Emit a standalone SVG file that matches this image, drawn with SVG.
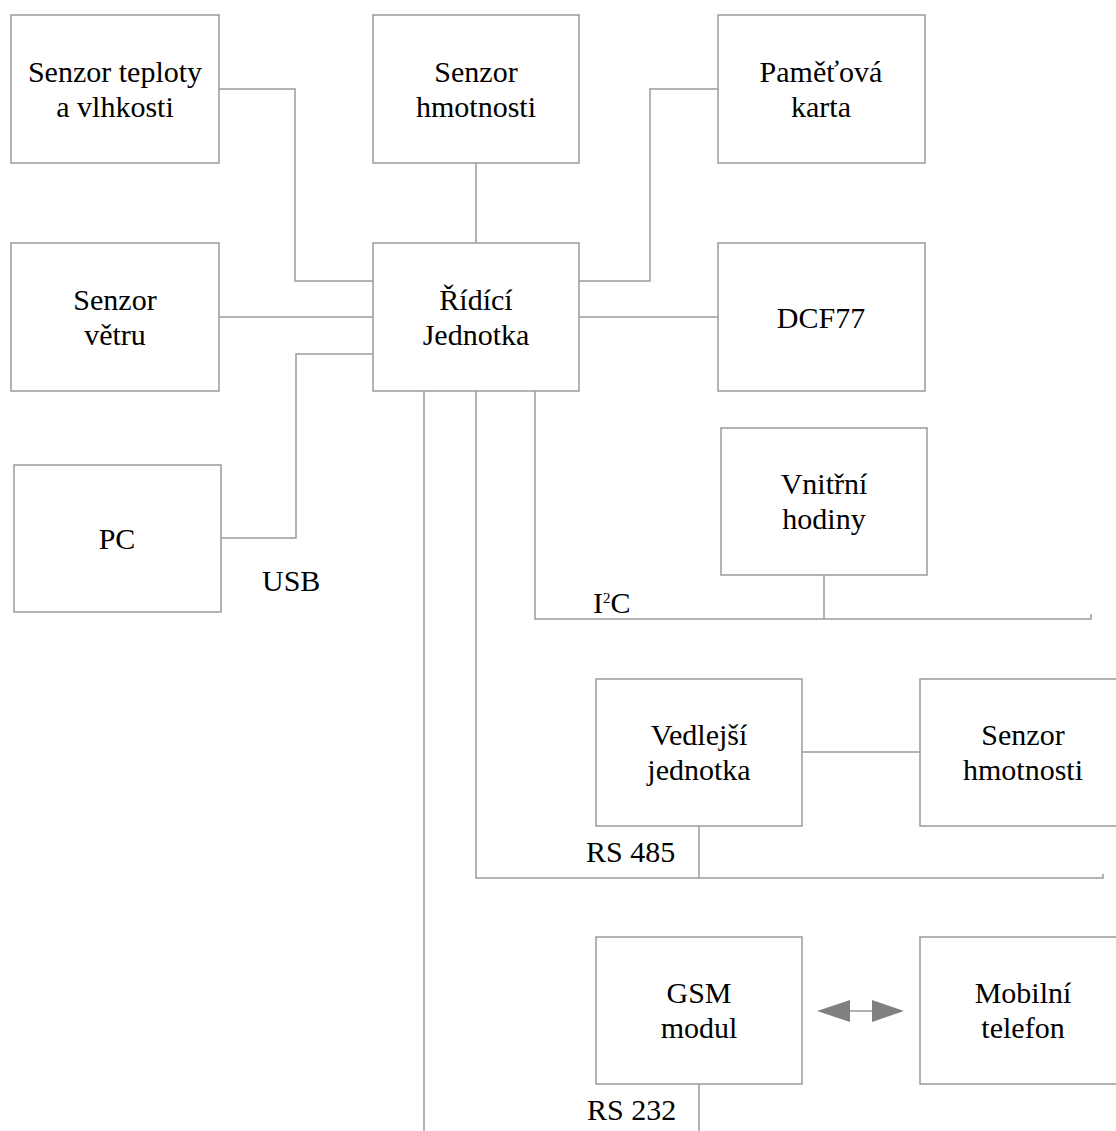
<svg xmlns="http://www.w3.org/2000/svg" width="1116" height="1131" viewBox="0 0 1116 1131">
<style>
rect.box{fill:#fff;stroke:#9a9a9a;stroke-width:1.5}
text{font-family:'Liberation Serif','Times New Roman',Times,serif;font-size:30px;fill:#000}
text.c{text-anchor:middle}
.ln{fill:none;stroke:#9a9a9a;stroke-width:1.5}
</style>
<rect width="1116" height="1131" fill="#fff"/>
<g id="connectors" font-family="Liberation Serif">
<polyline class="ln" points="219,89 295,89 295,281 373,281"/>
<line class="ln" x1="476" y1="163" x2="476" y2="243"/>
<line class="ln" x1="219" y1="317" x2="373" y2="317"/>
<polyline class="ln" points="221,538 296,538 296,354 373,354"/>
<polyline class="ln" points="718,89 650,89 650,281 579,281"/>
<line class="ln" x1="579" y1="317" x2="718" y2="317"/>
<line class="ln" x1="424" y1="391" x2="424" y2="1131"/>
<polyline class="ln" points="476,391 476,878 1103,878 1103,874"/>
<polyline class="ln" points="535,391 535,619 1091,619 1091,614"/>
<line class="ln" x1="824" y1="575" x2="824" y2="619"/>
<line class="ln" x1="699" y1="826" x2="699" y2="878"/>
<line class="ln" x1="802" y1="752" x2="920" y2="752"/>
<line class="ln" x1="699" y1="1084" x2="699" y2="1131"/>
<line x1="848" y1="1011" x2="874" y2="1011" stroke="#b0b0b0" stroke-width="2"/>
<polygon points="817,1011 850,1000 850,1022" fill="#808080"/>
<polygon points="904,1011 872,1000 872,1022" fill="#808080"/>
<text x="262" y="591">USB</text>
<text x="593" y="613">I<tspan dy="-10" font-size="15">2</tspan><tspan dy="10">C</tspan></text>
<text x="586" y="862">RS 485</text>
<text x="587" y="1120">RS 232</text>
</g>
<g id="n1"><rect class="box" x="11" y="15" width="208" height="148"/><text class="c" x="115" y="82">Senzor teploty</text><text class="c" x="115" y="117">a vlhkosti</text></g>
<g id="n2"><rect class="box" x="373" y="15" width="206" height="148"/><text class="c" x="476" y="82">Senzor</text><text class="c" x="476" y="117">hmotnosti</text></g>
<g id="n3"><rect class="box" x="718" y="15" width="207" height="148"/><text class="c" x="821" y="82">Paměťová</text><text class="c" x="821" y="117">karta</text></g>
<g id="n4"><rect class="box" x="11" y="243" width="208" height="148"/><text class="c" x="115" y="310">Senzor</text><text class="c" x="115" y="345">větru</text></g>
<g id="n5"><rect class="box" x="373" y="243" width="206" height="148"/><text class="c" x="476" y="310">Řídící</text><text class="c" x="476" y="345">Jednotka</text></g>
<g id="n6"><rect class="box" x="718" y="243" width="207" height="148"/><text class="c" x="821" y="328">DCF77</text></g>
<g id="n7"><rect class="box" x="14" y="465" width="207" height="147"/><text class="c" x="117" y="549">PC</text></g>
<g id="n8"><rect class="box" x="721" y="428" width="206" height="147"/><text class="c" x="824" y="494">Vnitřní</text><text class="c" x="824" y="529">hodiny</text></g>
<g id="n9"><rect class="box" x="596" y="679" width="206" height="147"/><text class="c" x="699" y="745">Vedlejší</text><text class="c" x="699" y="780">jednotka</text></g>
<g id="n10"><rect class="box" x="920" y="679" width="206" height="147"/><text class="c" x="1023" y="745">Senzor</text><text class="c" x="1023" y="780">hmotnosti</text></g>
<g id="n11"><rect class="box" x="596" y="937" width="206" height="147"/><text class="c" x="699" y="1003">GSM</text><text class="c" x="699" y="1038">modul</text></g>
<g id="n12"><rect class="box" x="920" y="937" width="206" height="147"/><text class="c" x="1023" y="1003">Mobilní</text><text class="c" x="1023" y="1038">telefon</text></g>
</svg>
